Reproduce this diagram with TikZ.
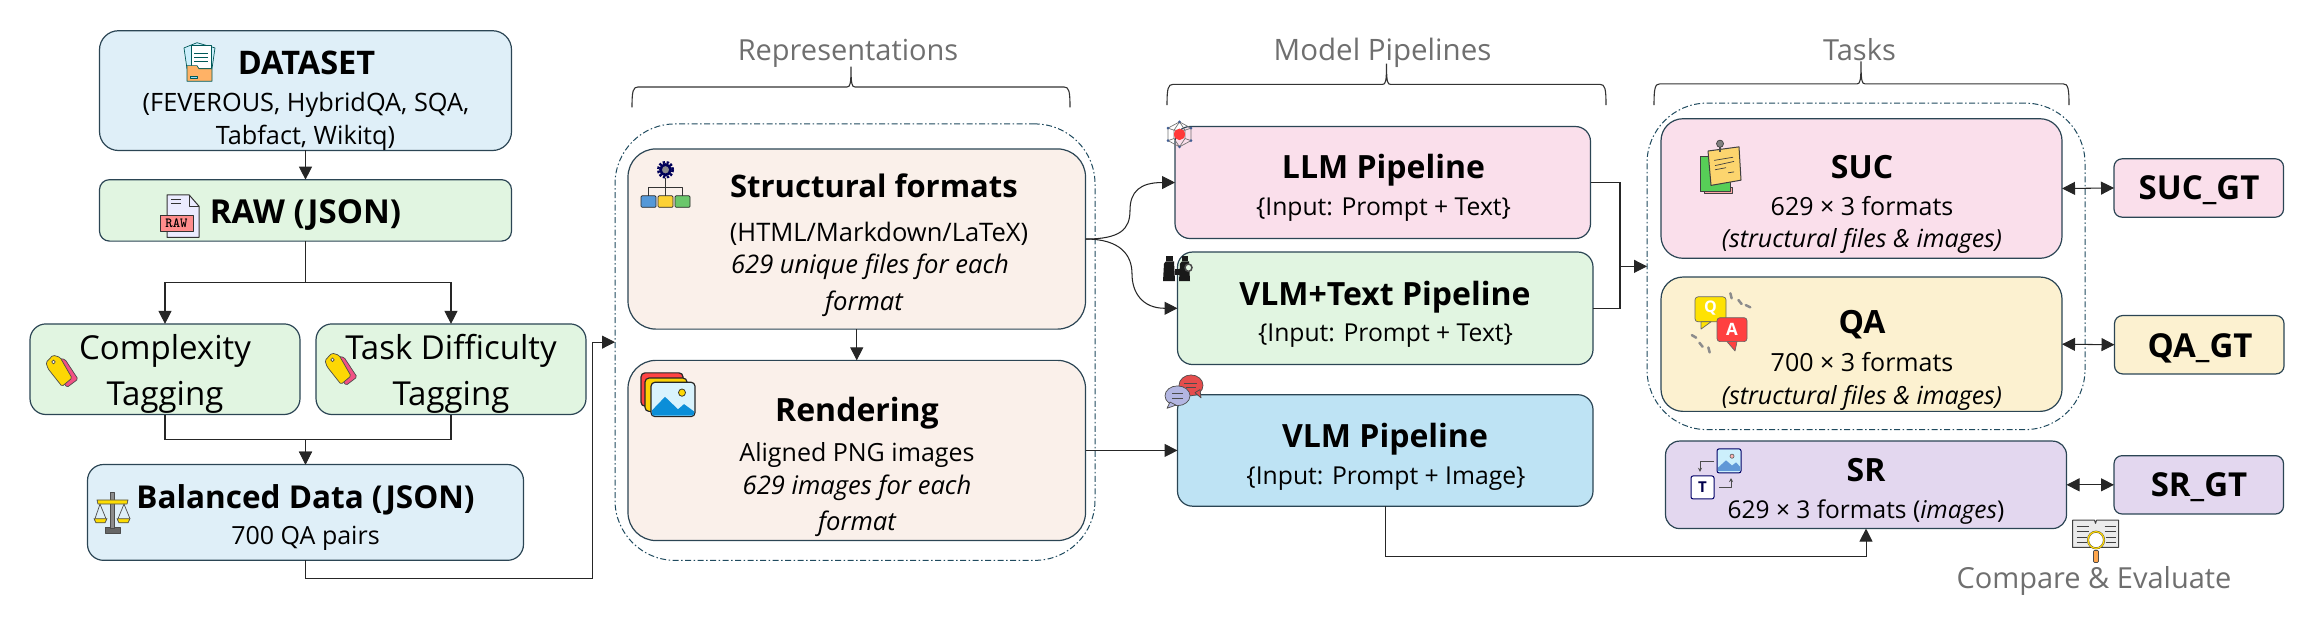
\documentclass[tikz,border=0pt]{standalone}
\usepackage{fontspec}
\setmainfont{Open Sans}
\usetikzlibrary{arrows.meta,shapes.geometric}
\definecolor{edgec}{HTML}{2B4554}
\definecolor{dashc}{HTML}{1F4A5E}
\definecolor{lblc}{HTML}{6F6F6F}
\definecolor{fblue}{HTML}{DFEFF8}
\definecolor{fgreen}{HTML}{E1F5E1}
\definecolor{fpeach}{HTML}{FAF0EA}
\definecolor{fpink}{HTML}{FADFEB}
\definecolor{fcream}{HTML}{FCF1D0}
\definecolor{fsky}{HTML}{BEE3F4}
\definecolor{fpurple}{HTML}{E3D7EF}
\tikzset{
  x=1pt,y=-1.0415pt,
  boxn/.style={draw=edgec,line width=1.2pt,inner sep=0pt,outer sep=0pt,shape=rectangle},
  groupn/.style={draw=dashc,line width=1pt,dash pattern=on 6pt off 2.5pt on 1.5pt off 2.5pt,inner sep=0pt,outer sep=0pt,shape=rectangle,rounded corners=60pt},
  conn/.style={draw=black!85,line width=1.05pt,-{Triangle[length=13pt,width=13pt]}},
  plainc/.style={draw=black!85,line width=1.05pt},
  dbl/.style={draw=black!85,line width=1.05pt,{Triangle[length=13pt,width=13pt]}-{Triangle[length=13pt,width=13pt]}},
  bracec/.style={draw=black!80,line width=1.1pt},
  ic/.style={draw=#1,line width=.7pt,line join=round},
  ic/.default=black!75
}
\newcommand{\bx}[7]{\node[boxn,fill=#2,rounded corners=#3pt,minimum width={#6-#4},minimum height={(#7-#5)*1.0415}] (#1) at ({(#4+#6)/2},{(#5+#7)/2}) {};}
\newcommand{\grp}[5]{\node[groupn,minimum width={#4-#2},minimum height={(#5-#3)*1.0415}] (#1) at ({(#2+#4)/2},{(#3+#5)/2}) {};}
\newcommand{\tx}[5]{\node[anchor=base,inner sep=0pt,font=#4] (#1) at (#2,#3) {#5};}
\newcommand{\brc}[5]{\draw[bracec] (#1,#4) .. controls (#1,#3+4) and (#1+1,#3) .. (#1+6,#3) -- (#2-4,#3) .. controls (#2-1,#3) and (#2,#3-2) .. (#2,#5) .. controls (#2,#3-2) and (#2+1,#3) .. (#2+4,#3) -- (\brcr-6,#3) .. controls (\brcr-1,#3) and (\brcr,#3+4) .. (\brcr,#4);}
\newcommand{\fT}[1]{\fontsize{#1}{#1}\selectfont\bfseries}
\newcommand{\fN}[1]{\fontsize{#1}{#1}\selectfont}
\newcommand{\fI}[1]{\fontsize{#1}{#1}\selectfont\itshape}
\begin{document}
\begin{tikzpicture}
\useasboundingbox (0,0) rectangle (2314,600.1);
% groups
\grp{rg}{615}{119}{1095}{538}
\grp{tg}{1647}{99}{2085}{412.5}
% boxes
\bx{ds}{fblue}{19}{99.5}{29.5}{511.5}{144.5}
\bx{raw}{fgreen}{10}{99.5}{172.5}{511.5}{231.5}
\bx{cx}{fgreen}{16}{30}{311}{300}{398}
\bx{td}{fgreen}{16}{316}{311}{586}{398}
\bx{bal}{fblue}{16}{87.5}{446}{523.5}{538}
\bx{st}{fpeach}{28}{628}{143}{1085.5}{316}
\bx{ren}{fpeach}{28}{628}{346}{1085.5}{519}
\bx{llm}{fpink}{15}{1175}{121.5}{1590.5}{229}
\bx{vt}{fgreen}{15}{1177.5}{242}{1593}{350}
\bx{vlm}{fsky}{15}{1177.5}{379}{1593}{486}
\bx{suc}{fpink}{22}{1661}{114}{2062}{248}
\bx{qa}{fcream}{22}{1661}{266}{2062}{395}
\bx{sr}{fpurple}{14}{1665.5}{423.5}{2066.5}{507.5}
\bx{sucg}{fpink}{8}{2114}{152.5}{2283.5}{208.5}
\bx{qag}{fcream}{8}{2114.5}{303}{2284}{359}
\bx{srg}{fpurple}{8}{2114}{437.5}{2283.5}{493.5}
% braces
\def\brcr{1070}\brc{632}{851}{83.5}{103}{64}
\def\brcr{1606}\brc{1167}{1386.5}{81}{101}{61}
\def\brcr{2069}\brc{1654}{1861}{80.5}{101}{59}
% connectors
\coordinate (kk) at (592.5,328.5);
\coordinate (jj) at (1620,255.75);
\coordinate (m1) at (1130,202);
\coordinate (m2) at (1132,263);
\draw[conn] (ds.south) -- (raw.north);
\draw[plainc] (raw.south) -- ++(0,39.5);
\draw[conn] (raw.south) ++(0,39.5) -| (cx.north);
\draw[conn] (raw.south) ++(0,39.5) -| (td.north);
\draw[conn] (cx.south) -- ++(0,24) -| (bal.north);
\draw[conn] (td.south) -- ++(0,24) -| (bal.north);
\draw[conn] (bal.south) -- ++(0,17) -| (kk) -- (rg.west);
\draw[conn] (st.south) -- (ren.north);
\draw[conn] (st.east) .. controls +(35,0) and +(0,18) .. (m1) .. controls +(0,-18) and +(-35,0) .. (llm.west);
\draw[conn] (st.east) .. controls +(35,0) and +(0,-18) .. (m2) .. controls +(0,18) and +(-35,0) .. (vt.west);
\draw[conn] (ren.east) -- (vlm.west);
\draw[plainc] (llm.east) -| (jj);
\draw[plainc] (vt.east) -| (jj);
\draw[conn] (jj) -- (tg.west);
\draw[conn] (vlm.south) -- ++(0,48.5) -| (sr.south);
\draw[dbl] (suc.east) -- (sucg.west);
\draw[dbl] (qa.east) -- (qag.west);
\draw[dbl] (sr.east) -- (srg.west);
% texts
\tx{t1}{306.5}{72}{\fT{32.5}}{DATASET}
\tx{t2}{306}{107}{\fN{25.3}}{(FEVEROUS, HybridQA, SQA,}
\tx{t3}{305.5}{138.5}{\fN{25.3}}{Tabfact, Wikitq)}
\tx{t4}{305.5}{215}{\fT{33}}{RAW (JSON)}
\tx{t5}{165}{345.5}{\fN{33}}{Complexity}
\tx{t6}{165}{389}{\fN{33}}{Tagging}
\tx{t7}{451}{345.5}{\fN{33}}{Task Difficulty}
\tx{t8}{451}{389}{\fN{33}}{Tagging}
\tx{t9}{305.5}{488}{\fT{31.5}}{Balanced Data (JSON)}
\tx{t10}{305.5}{523}{\fN{25}}{700 QA pairs}
\tx{l1}{848}{58.5}{\fN{29}\color{lblc}}{Representations}
\tx{l2}{1382.5}{58.5}{\fN{29.5}\color{lblc}}{Model Pipelines}
\tx{l3}{1859.5}{58.5}{\fN{29}\color{lblc}}{Tasks}
\tx{t11}{874}{190}{\fT{31}}{Structural formats}
\tx{t12}{879}{231.5}{\fN{25.5}}{(HTML/Markdown/LaTeX)}
\tx{t13}{870}{262.5}{\fI{25.6}}{629 unique files for each}
\tx{t14}{864}{298}{\fI{25.6}}{format}
\tx{t15}{857}{405}{\fT{32}}{Rendering}
\tx{t16}{857}{443}{\fN{25}}{Aligned PNG images}
\tx{t17}{857}{474.5}{\fI{25.6}}{629 images for each}
\tx{t18}{857}{509}{\fI{25.6}}{format}
\tx{t19}{1383.5}{171.5}{\fT{32}}{LLM Pipeline}
\tx{t20}{1383.5}{206.5}{\fN{24.7}}{\{Input: Prompt + Text\}}
\tx{t21}{1385}{293}{\fT{32}}{VLM+Text Pipeline}
\tx{t22}{1385.5}{327.5}{\fN{24.7}}{\{Input: Prompt + Text\}}
\tx{t23}{1385}{430}{\fT{32}}{VLM Pipeline}
\tx{t24}{1386}{465}{\fN{24.7}}{\{Input: Prompt + Image\}}
\tx{t25}{1862}{171}{\fT{32}}{SUC}
\tx{t26}{1862}{206.5}{\fN{25}}{629 × 3 formats}
\tx{t27}{1862}{238}{\fI{25}}{(structural files \& images)}
\tx{t28}{1862}{320.5}{\fT{32}}{QA}
\tx{t29}{1862}{356.5}{\fN{25}}{700 × 3 formats}
\tx{t30}{1862}{388}{\fI{25}}{(structural files \& images)}
\tx{t31}{1866}{462}{\fT{32}}{SR}
\tx{t32}{1866}{497.5}{\fN{24.5}}{629 × 3 formats ({\itshape images})}
\tx{t33}{2199}{192}{\fT{33}}{SUC\_GT}
\tx{t34}{2200}{343}{\fT{33}}{QA\_GT}
\tx{t35}{2199}{476.5}{\fT{33}}{SR\_GT}
\tx{t36}{2094}{565.5}{\fN{29}\color{lblc}}{Compare \& Evaluate}
% icon: dataset
\begin{scope}[shift={(184,41)}]
\filldraw[ic=teal!70!black,fill=cyan!20!white] (0,5) -- (13,0) -- (31,5) -- (28,25) -- (3,25) -- cycle;
\filldraw[ic=teal!70!black,fill=white] (7,3) -- (27,3) -- (27,25) -- (7,25) -- cycle;
\draw[ic=teal!70!black] (10,10) -- (24,10) (10,14) -- (24,14) (10,18) -- (24,18);
\filldraw[ic=teal!70!black,fill=orange!60!white] (3,37) -- (3,22) -- (13,22) -- (15,25) -- (28,25) -- (28,37) -- cycle;
\filldraw[ic=teal!70!black,fill=cyan!40!white] (6,32) rectangle (13,34.5);
\end{scope}
% icon: raw file
\begin{scope}[shift={(160,187)}]
\filldraw[ic=black!80,line width=1pt,fill=blue!8!white] (7,0) -- (29,0) -- (39,11) -- (39,41) -- (7,41) -- cycle;
\draw[ic=black!80] (29,0) -- (29,11) -- (39,11) (11,4) -- (21,4) (11,8) -- (21,8);
\filldraw[ic=black!80,fill=red!45!white] (0,20) rectangle (33,35);
\node[inner sep=0pt,font=\fontsize{14}{14}\selectfont\bfseries\ttfamily] (rawico) at (16.5,27.5) {RAW};
\end{scope}
% icon: tags
\foreach \ox/\oy/\nm in {45/340/a,324/338/b}{
\begin{scope}[shift={(\ox,\oy)}]
\filldraw[ic=black!70,fill=magenta!60!red!70!white,rounded corners=1.5pt] (12,4) -- (20,5) -- (33,24) -- (22,32) -- (12,18) -- cycle;
\filldraw[ic=black!70,fill=yellow!75!orange,rounded corners=1.5pt] (1,8) -- (8,1) -- (15,3) -- (27,23) -- (17,31) -- (3,14) -- cycle;
\filldraw[ic=black!70,fill=white] (8.5,7.5) circle (1.8);
\end{scope}}
% icon: scales
\begin{scope}[shift={(94,473)}]
\filldraw[ic=black!70,fill=black!60] (11,33) rectangle (26,39);
\filldraw[ic=black!70,fill=black!45] (16.5,0) rectangle (20,34);
\filldraw[ic=black!70,fill=yellow!80!orange] (3,7) -- (34,7) -- (33,11) -- (4,11) -- cycle;
\draw[ic=black!70] (6,11) -- (1,25) (6,11) -- (12,25) (30,11) -- (24,25) (30,11) -- (36,25);
\filldraw[ic=black!70,fill=yellow!80!orange] (0,25) -- (13,25) -- (11,29) -- (2,29) -- cycle;
\filldraw[ic=black!70,fill=yellow!80!orange] (23,25) -- (36,25) -- (34,29) -- (25,29) -- cycle;
\end{scope}
% icon: structure
\begin{scope}[shift={(641,155)}]
\draw[draw=blue!35!black,line width=2.5pt,dash pattern=on 2.4pt off 1.6pt] (24.5,8) circle (7.3);
\filldraw[draw=blue!35!black,line width=2.6pt,fill=black!45] (24.5,8) circle (5);
\draw[ic=black!80] (24.5,15.5) -- (24.5,33) (7,33) -- (7,25) -- (41,25) -- (41,33);
\filldraw[ic=black!85,fill=cyan!60!blue!70!white,rounded corners=1pt] (0,33) rectangle (15,44);
\filldraw[ic=black!85,fill=yellow!60!orange!80!white,rounded corners=1pt] (17,33) rectangle (32,44);
\filldraw[ic=black!85,fill=green!45!gray!80!white,rounded corners=1pt] (34,33) rectangle (49,44);
\end{scope}
% icon: rendering
\begin{scope}[shift={(641,358)}]
\filldraw[ic=black!85,line width=1.2pt,fill=red!65!pink,rounded corners=4pt] (0,0) rectangle (42,32);
\filldraw[ic=black!85,line width=1.2pt,fill=yellow!70!orange,rounded corners=4pt] (4,5) rectangle (46,37);
\filldraw[ic=black!85,line width=1.2pt,fill=cyan!15!white,rounded corners=4pt] (10,9) rectangle (54,42);
\fill[cyan!75!blue] (11,39) -- (11,36) -- (24,23) -- (37,35) -- (43,30) -- (53,37) -- (53,39) .. controls (53,41) and (52,41) .. (50,41) -- (13,41) .. controls (12,41) and (11,41) .. (11,39) -- cycle;
\filldraw[ic=black!85,fill=yellow!75!orange] (41,19) circle (3.5);
\end{scope}
% icon: LLM network
\begin{scope}[shift={(1167,116)}]
\draw[ic=black!55] (12.5,1) -- (24,7) -- (24,19) -- (12.5,25) -- (1,19) -- (1,7) -- cycle;
\draw[ic=black!55] (12.5,1) -- (7,9) -- (1,7) (12.5,1) -- (18,9) -- (24,7) (7,9) -- (18,9) (1,19) -- (7,17) -- (12.5,25) -- (18,17) -- (24,19) (7,9) -- (7,17) (18,9) -- (18,17);
\fill[red!70!pink] (12.5,13) circle (5.5);
\foreach \px/\py in {12.5/1,24/7,24/19,12.5/25,1/19,1/7}{\fill[cyan!40!blue!70!black] (\px,\py) circle (1.4);}
\end{scope}
% icon: binoculars
\begin{scope}[shift={(1163,246)}]
\fill[black!90] (3,0) rectangle (10,5);
\fill[black!90] (1,7) -- (3,5) -- (11,5) -- (12,24) -- (0,24) -- cycle;
\fill[black!90] (19,0) rectangle (25,5);
\fill[black!90] (12,12) rectangle (17,18);
\fill[black!90] (17,7) -- (19,5) -- (26,5) -- (27,24) -- (16,24) -- cycle;
\filldraw[draw=black!70,line width=1.5pt,fill=fgreen] (25.5,11) circle (3.5);
\end{scope}
% icon: chat
\begin{scope}[shift={(1165,360)}]
\filldraw[ic=black!70,fill=red!55!pink!90!black] (26,10) ellipse (12 and 10);
\filldraw[ic=black!70,fill=red!55!pink!90!black] (30,17) -- (36,22) -- (35,14) -- cycle;
\draw[ic=black!70] (19,8) -- (32,8) (21,12) -- (31,12);
\filldraw[ic=black!70,fill=cyan!25!blue!30!white] (12.5,20) ellipse (12.5 and 9.5);
\filldraw[ic=black!70,fill=cyan!25!blue!30!white] (5,26) -- (2,32) -- (11,29) -- cycle;
\draw[ic=black!70] (7,18) -- (18,18) (7,22) -- (18,22);
\end{scope}
% icon: note
\begin{scope}[shift={(1700,134)}]
\filldraw[ic=black!75,fill=red!35!white] (4,46) rectangle (32,52);
\filldraw[ic=black!75,fill=green!55!gray!85!white] (0,16) rectangle (30,50);
\filldraw[ic=black!75,line width=1pt,fill=yellow!45!orange!55!white] (8,11) -- (39,7) -- (41,39) -- (11,44) -- cycle;
\draw[ic=black!75] (14,20) -- (33,17) (15,25) -- (34,21) (15,29) -- (26,27) (28,32) -- (34,31);
\draw[black!70,line width=1.2pt] (20,4) -- (20,12);
\filldraw[ic=black!75,fill=black!50] (20,4) circle (3.5);
\end{scope}
% icon: QA
\begin{scope}[shift={(1691,281)}]
\filldraw[ic=black!60,fill=yellow!85!orange,rounded corners=3pt] (4,4) rectangle (35,28);
\filldraw[ic=black!60,fill=yellow!85!orange] (10,28) -- (10,35) -- (20,28) -- cycle;
\node[inner sep=0pt,font=\fontsize{16}{16}\selectfont\bfseries,text=white] (qico) at (19.5,15) {Q};
\filldraw[ic=black!60,fill=red!75!white,rounded corners=3pt] (26,24) rectangle (56,47);
\filldraw[ic=black!60,fill=red!75!white] (36,47) -- (44,56) -- (46,47) -- cycle;
\node[inner sep=0pt,font=\fontsize{17}{17}\selectfont\bfseries,text=white] (aico) at (41,35) {A};
\foreach \ax/\ay/\aang in {40/3/75,49/9/50,57/13/25,3/42/30,10/50/50,18/55/75}{
\draw[black!45,line width=2.5pt,line cap=round] (\ax,\ay) ++(\aang:-2.5) -- ++(\aang:5);}
\end{scope}
% icon: SR
\begin{scope}[shift={(1691,431)}]
\filldraw[ic=blue!40!black,line width=1pt,fill=cyan!20!white,rounded corners=2pt] (26,0) rectangle (50,23);
\fill[cyan!55!blue!65!white] (27,21) -- (27,18) -- (35,11) -- (41,16) -- (45,13) -- (49,17) -- (49,21) -- cycle;
\filldraw[ic=black!60,fill=red!30!white] (41,7) circle (2);
\filldraw[ic=blue!40!black,line width=1pt,fill=white,rounded corners=2pt] (0,26) rectangle (23,48);
\node[inner sep=0pt,font=\fontsize{15}{15}\selectfont\bfseries,text=blue!30!black] (tico) at (11.5,37) {T};
\draw[ic=black!70,-{Stealth[length=4pt,width=4pt]}] (23,12) -- (9,12) -- (9,22);
\draw[ic=black!70,-{Stealth[length=4pt,width=4pt]}] (28,37) -- (40,37) -- (40,28);
\end{scope}
% icon: compare
\begin{scope}[shift={(2072.5,497.5)}]
\filldraw[ic=black!75,line width=1pt,fill=black!8] (0,2) -- (22,2) -- (23,5) -- (24,2) -- (46,2) -- (46,28) -- (0,28) -- cycle;
\draw[ic=black!75] (4,8) -- (16,8) (4,13) -- (16,13) (4,18) -- (14,18) (4,23) -- (14,23) (32,8) -- (43,8) (32,13) -- (43,13) (33,18) -- (43,18) (33,23) -- (43,23);
\filldraw[ic=black!70,fill=orange!70!white,rounded corners=1pt] (21,31) rectangle (26,42.5);
\filldraw[draw=black!75,line width=2pt,fill=white] (23.5,21) circle (8);
\draw[yellow!75!orange,line width=1.3pt] (23.5,21) circle (8);
\end{scope}
\end{tikzpicture}
\end{document}
